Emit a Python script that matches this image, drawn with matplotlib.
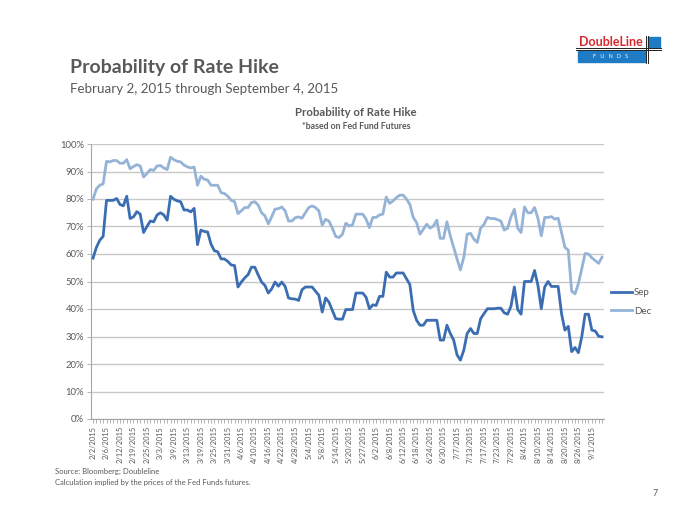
import matplotlib
matplotlib.use("Agg")
import matplotlib.pyplot as plt
import numpy as np
import pandas as pd
from matplotlib.patches import Rectangle
from matplotlib.lines import Line2D
from matplotlib.ticker import FuncFormatter

plt.rcParams['font.family'] = ['Lato', 'DejaVu Sans']

# trading days shown on the category axis
holidays = ['2015-02-16', '2015-05-25', '2015-07-03']
dates = pd.bdate_range('2015-02-02', '2015-09-04')
dates = dates[~dates.isin(pd.to_datetime(holidays))]

# probability of hike (%)
sep = [58.5, 62.4, 65, 66.4, 79.5, 79.5, 79.5, 80.2, 78, 77.5,
       81, 72.9, 73.5, 75.4, 74.5, 67.8, 70, 72, 71.7, 74.2,
       75, 74.2, 72.3, 81, 79.9, 79.3, 79, 76, 76, 75.3,
       76.6, 63.4, 68.7, 68.2, 68, 63.6, 61.2, 60.8, 58.2, 58.2,
       57.3, 56, 55.8, 48, 49.8, 51.3, 52.5, 55.2, 55.2, 52.4,
       49.8, 48.6, 45.8, 47.3, 49.8, 48.3, 49.8, 48.2, 44, 43.7,
       43.6, 43.1, 47, 48, 48, 48, 46.5, 45, 38.9, 44,
       42.5, 39.5, 36.5, 36.3, 36.3, 39.8, 39.8, 39.8, 45.8, 45.8,
       45.8, 44.3, 40.1, 41.5, 41.3, 44.6, 44.6, 53.4, 51.6, 51.6,
       53.1, 53.1, 53.1, 51, 48.9, 39.5, 35.9, 34.1, 34.1, 35.9,
       35.9, 35.9, 35.9, 28.7, 28.7, 34.1, 31.1, 28.7, 23.3, 21.4,
       25, 31.1, 32.9, 31.1, 31.1, 36.5, 38.3, 40.1, 40.1, 40.1,
       40.3, 40.3, 38.6, 38.1, 41, 48, 39.8, 38.1, 50, 50,
       50, 54, 48.6, 40.1, 48, 50, 48.2, 48.2, 48.2, 38.3,
       32.3, 33.7, 24.5, 26, 24.1, 29.9, 38.1, 38.1, 32.3, 32,
       30.1, 29.9]
dec = [79.9, 83.7, 85, 85.5, 93.7, 93.5, 94, 94, 93, 93,
       94.3, 91, 91.8, 92.5, 92, 88, 89.3, 90.7, 90.4, 92,
       92.2, 91.3, 90.7, 95.2, 94.3, 93.7, 93.5, 92.3, 91.7, 91.3,
       91.6, 85, 88.3, 87.2, 86.9, 85, 85, 85, 82.3, 82,
       81, 79.5, 79, 74.7, 75.7, 76.9, 76.9, 78.7, 79, 77.8,
       75, 73.9, 71, 73.5, 76.3, 76.5, 77.1, 75.7, 72, 72,
       73.2, 73.5, 73, 75, 76.9, 77.5, 76.9, 75.7, 70.5, 72.6,
       72, 69.4, 66.4, 66, 67.2, 71.2, 70.2, 70.6, 74.5, 74.5,
       74.5, 72.7, 69.6, 73.3, 73.3, 74.2, 74.5, 80.7, 78.4, 79.3,
       80.5, 81.4, 81.4, 80, 78, 73.3, 71.4, 67.2, 69, 70.8,
       69.4, 70.2, 72.3, 65.7, 65.7, 71.7, 66.6, 62.4, 58.2, 54.2,
       58.8, 67.2, 67.5, 65.4, 64.2, 69.4, 70.8, 73.3, 72.9, 72.9,
       72.5, 72, 68.7, 69.4, 73.5, 76.3, 69.4, 67.8, 77.1, 75,
       75, 76.9, 73, 66.6, 73.3, 73.3, 73.6, 72.7, 73, 67.8,
       62.4, 61.4, 46.5, 45.5, 49.2, 54.6, 60.2, 60, 58.6, 57.6,
       56.6, 58.8]

W, H = 700, 525
TXT = '#595959'


def fx(x):
    return x / W


def fy(y):
    return 1 - y / H


fig = plt.figure(figsize=(7, 5.25), dpi=100)
ax = fig.add_axes([fx(91), fy(419), fx(604) - fx(91), fy(144) - fy(419)])

x = np.arange(len(dates))
l_dec, = ax.plot(x, np.array(dec) / 100, color='#95b3d7', lw=2, zorder=3)
l_sep, = ax.plot(x, np.array(sep) / 100, color='#3b6db3', lw=2, zorder=4)

ax.set_xlim(-0.6, len(dates) - 0.4)
ax.set_ylim(0, 1)
ax.set_yticks(np.arange(0, 1.01, 0.1))
ax.yaxis.set_major_formatter(FuncFormatter(lambda v, p: f"{v*100:.0f}%"))
ax.grid(axis='y', color='#c8c8c8', lw=1)
ax.set_axisbelow(True)

xlabels = [f"{d.month}/{d.day}/{d.year}" if i % 4 == 0 else '' for i, d in enumerate(dates)]
ax.set_xticks(x)
ax.set_xticklabels(xlabels, rotation=90, fontsize=5.4, color=TXT)
ax.tick_params(axis='x', length=3, width=0.6, color='#a6a6a6', pad=2)
ax.tick_params(axis='y', length=3, width=0.6, color='#a6a6a6', labelsize=6.8, labelcolor=TXT, pad=2)

for s in ['top', 'right']:
    ax.spines[s].set_visible(False)
for s in ['left', 'bottom']:
    ax.spines[s].set_color('#a6a6a6')
    ax.spines[s].set_linewidth(0.8)

fig.legend([l_sep, l_dec], ['Sep', 'Dec'], loc='center left',
           bbox_to_anchor=(fx(602), fy(302)), frameon=False, fontsize=7,
           handlelength=2.2, handletextpad=0.2, labelspacing=1.0, labelcolor=TXT)

# headings
fig.text(fx(70), fy(67), 'Probability of Rate Hike', fontsize=14, fontweight='bold', color=TXT, va='center')
fig.text(fx(70), fy(89), 'February 2, 2015 through September 4, 2015', fontsize=9.6, color=TXT, va='center')
fig.text(fx(356), fy(113), 'Probability of Rate Hike', fontsize=8.2, fontweight='bold', color=TXT, ha='center', va='center')
fig.text(fx(356), fy(127), '*based on Fed Fund Futures', fontsize=6.3, fontweight='bold', color=TXT, ha='center', va='center')

# footer
fig.text(fx(55), fy(471), 'Source: Bloomberg; Doubleline', fontsize=5.5, color=TXT, va='center')
fig.text(fx(55), fy(482), 'Calculation implied by the prices of the Fed Funds futures.', fontsize=5.5, color=TXT, va='center')
fig.text(fx(655), fy(494), '7', fontsize=6.5, color=TXT, ha='center', va='center')

# logo
fig.patches.append(Rectangle((fx(578), fy(62)), fx(645) - fx(578), fy(51) - fy(62),
                             transform=fig.transFigure, color='#1f7bc4'))
fig.patches.append(Rectangle((fx(648), fy(47)), fx(660) - fx(648), fy(37) - fy(47),
                             transform=fig.transFigure, color='#1f7bc4'))
fig.text(fx(611), fy(41.5), 'DoubleLine', fontsize=9, fontweight='bold', color='#d8282f', ha='center', va='center')
fig.text(fx(611), fy(56.5), 'F   U   N   D   S', fontsize=4, color='white', ha='center', va='center')
for yy in (47.7, 49.5):
    fig.lines.append(Line2D([fx(576), fx(661)], [fy(yy), fy(yy)], transform=fig.transFigure, color='#222222', lw=0.7))
for xx in (645.5, 647.5):
    fig.lines.append(Line2D([fx(xx), fx(xx)], [fy(36), fy(63)], transform=fig.transFigure, color='#222222', lw=0.7))

fig.savefig('out.png', dpi=100)
